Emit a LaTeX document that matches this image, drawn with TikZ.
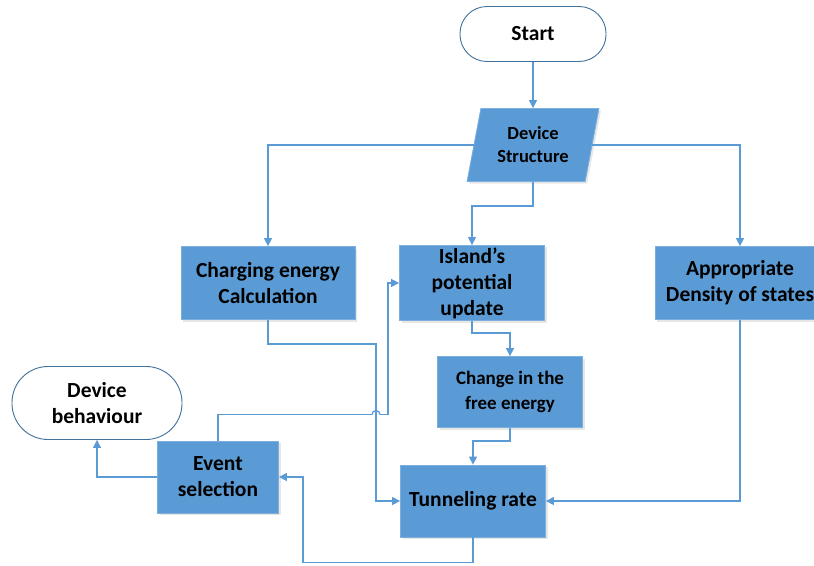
\documentclass[tikz,border=0pt]{standalone}
\usepackage{fontspec}
\setmainfont{Carlito}
\usetikzlibrary{shapes.geometric,arrows.meta,shadows}
\definecolor{azul}{HTML}{5B9BD5}
\definecolor{azuloscuro}{HTML}{41719C}
\tikzset{
  caja/.style={draw=azul!80!white, fill=azul, line width=0.8pt, minimum width=145pt, minimum height=73pt,
    align=center, inner sep=2pt, font=\bfseries\fontsize{21.5}{26}\selectfont,
    drop shadow={opacity=0.2, shadow xshift=2pt, shadow yshift=-2pt}},
  terminal/.style={draw=azuloscuro, fill=white, line width=0.9pt, rounded corners=27pt, align=center,
    font=\bfseries\fontsize{21.5}{26}\selectfont},
  datos/.style={caja, trapezium, trapezium left angle=76, trapezium right angle=104, trapezium stretches=true,
    minimum width=133pt, font=\bfseries\fontsize{18.5}{23}\selectfont},
  linea/.style={azul, line width=1.3pt},
  flecha/.style={linea, -{Triangle[length=8pt,width=8pt]}}
}
\begin{document}
\begin{tikzpicture}[x=1pt,y=-1pt]
        \clip (0,0) rectangle (814,565); % marco
        \node[terminal, minimum width=146pt, minimum height=55pt] (inicio) at (533,34) {Start};
        \node[datos] (estructura) at (533,145) {Device\\Structure};
        \node[caja, minimum width=174pt] (carga) at (268,283) {Charging energy\\Calculation};
        \node[caja] (isla) at (472,283) {Island’s\\potential\\update};
        \node[caja, minimum width=170pt] (densidad) at (740,283) {Appropriate\\Density of states};
        \node[caja, minimum height=71pt, font=\bfseries\fontsize{19}{25}\selectfont] (energia) at (510,392) {Change in the\\free energy};
        \node[caja, minimum height=72pt] (tasa) at (473,501) {Tunneling rate};
        \node[caja, minimum width=121pt, minimum height=72pt] (evento) at (218,477) {Event\\selection};
        \node[terminal, minimum width=170pt, minimum height=73pt, rounded corners=36pt] (comport) at (97,403) {Device\\behaviour};
        \draw[flecha] (inicio) -- (estructura);
        \draw[flecha] (estructura) -| (carga);
        \draw[flecha] (estructura) -| (densidad);
        \draw[flecha] (estructura.south) -- ++(0,24) -| (isla.north);
        \draw[flecha] (isla.south) -- ++(0,12) -| (energia.north);
        \draw[flecha] (energia.south) -- ++(0,13) -| (tasa.north);
        \draw[flecha] (densidad.south) |- (tasa.east);
        \draw[flecha] (carga.south) -- ++(0,24) -- ++(108,0) |- (tasa.west);
        \draw[flecha] (evento.north) -- ++(0,-26) -- ++(154,0) coordinate (salto)
              ++(8,0) -- ++(8,0) |- (isla.west);
        \draw[linea] (salto) arc[start angle=180, end angle=360, radius=4]; % salto
        \draw[flecha] (evento.west) -| (comport.south);
        \draw[flecha] (tasa.south) -- ++(0,25) -- ++(-170,0) |- (evento.east);
\end{tikzpicture}
\end{document}
